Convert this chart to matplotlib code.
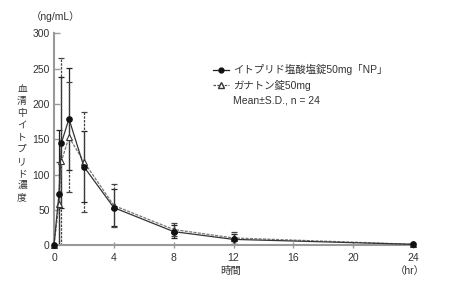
import matplotlib
matplotlib.use("Agg")
import matplotlib.pyplot as plt
from matplotlib.lines import Line2D

plt.rcParams['font.family'] = ['Liberation Sans', 'Noto Sans CJK JP', 'DejaVu Sans']

time_hr = [0, 0.33, 0.5, 1, 2, 4, 8, 12, 24]
np_mean = [0, 72, 145, 179, 111, 53, 19, 8, 1]
np_sd = [0, 91, 93, 72, 50, 26, 9, 7, 1]
gan_mean = [0, 58, 119, 153, 118, 56, 22, 10, 1]
gan_sd = [0, 60, 146, 78, 71, 31, 9, 8, 1]
x_ticks = [0, 4, 8, 12, 16, 20, 24]
y_ticks = [0, 50, 100, 150, 200, 250, 300]
label_np = "イトプリド塩酸塩錠50mg「NP」"
label_gan = "ガナトン錠50mg"
label_stat = "Mean±S.D., n = 24"

fig = plt.figure(figsize=(4.5, 2.91), dpi=100)
ax = fig.add_axes([0.12, 0.158, 0.798, 0.727])

txt = '#333333'
spine_c = '#999999'
fs = 7.5

# error bars
eb1 = ax.errorbar(time_hr, np_mean, yerr=np_sd, fmt='none', ecolor='#222222',
                  elinewidth=0.9, capsize=2, capthick=0.9, zorder=2)
eb2 = ax.errorbar(time_hr, gan_mean, yerr=gan_sd, fmt='none', ecolor='#444444',
                  elinewidth=0.9, capsize=2, capthick=0.9, zorder=2)
for c in eb2[2]:
    c.set_linestyle((0, (2, 1)))

ax.plot(time_hr, gan_mean, color='#777777', lw=0.9, ls=(0, (2.5, 1)),
        marker='^', ms=4.0, mfc='white', mec='#333333', mew=0.8, zorder=3, clip_on=False)
ax.plot(time_hr, np_mean, color='#333333', lw=0.9, ls='-',
        marker='o', ms=3.8, mfc='#111111', mec='#111111', zorder=4, clip_on=False)

ax.set_xlim(0, 24)
ax.set_ylim(0, 300)
ax.set_xticks(x_ticks)
ax.set_yticks(y_ticks)
ax.tick_params(axis='x', direction='inout', length=5, width=1, color=spine_c,
               labelsize=fs, labelcolor=txt, pad=3)
ax.tick_params(axis='y', direction='in', length=4, width=1, color=spine_c,
               labelsize=fs, labelcolor=txt, pad=3)
for s in ['top', 'right']:
    ax.spines[s].set_visible(False)
for s in ['left', 'bottom']:
    ax.spines[s].set_color(spine_c)
    ax.spines[s].set_linewidth(1.5)

fig.text(56/450, 1-17/291, "（ng/mL）", ha='center', va='center', fontsize=fs, color=txt)
fig.text(22/450, 1-143/291, "\n".join("血清中イトプリド濃度"), ha='center', va='center',
         fontsize=7, color=txt, linespacing=1.25)
fig.text(231/450, 1-271/291, "時間", ha='center', va='center', fontsize=fs, color=txt)
fig.text(410/450, 1-271/291, "（hr）", ha='center', va='center', fontsize=fs, color=txt)

h1 = Line2D([], [], color='#222222', lw=0.9, marker='o', ms=3.5, mfc='#111111', mec='#111111')
h2 = Line2D([], [], color='#555555', lw=0.9, ls=(0, (2, 1)), marker='^', ms=4, mfc='white', mec='#333333')
h3 = Line2D([], [], color='none')
leg = fig.legend([h1, h2, h3], [label_np, label_gan, label_stat], loc='upper left',
                 bbox_to_anchor=(213/450, 1-64/291), frameon=False, fontsize=fs,
                 handlelength=1.5, handletextpad=0.4, labelspacing=0.45,
                 borderpad=0, borderaxespad=0)
for t in leg.get_texts():
    t.set_color(txt)

fig.savefig("out.png", dpi=100)
